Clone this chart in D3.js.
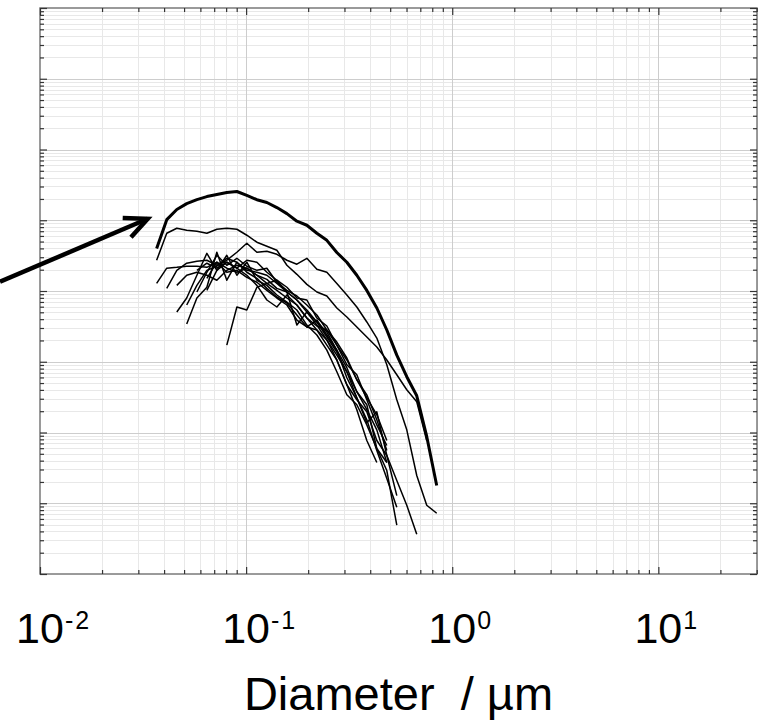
<!DOCTYPE html>
<html>
<head>
<meta charset="utf-8">
<script src="https://cdn.jsdelivr.net/npm/d3@7"></script>
<style>
  body { margin: 0; background: #fff; }
  svg { display: block; }
  text { font-family: "Liberation Sans", Arial, Helvetica, sans-serif; fill: #000; }
</style>
</head>
<body>
<div id="chart"></div>
<script>
// size bins (µm), shared by every curve
const diameters = [0.0368, 0.0412, 0.0461, 0.0515, 0.0577, 0.0645, 0.0721, 0.0806, 0.0902, 0.1008,
    0.1128, 0.1261, 0.1410, 0.1577, 0.1763, 0.1971, 0.2204, 0.2464, 0.2755, 0.3081,
    0.3444, 0.3851, 0.4306, 0.4815, 0.5383, 0.6017, 0.6727, 0.7520, 0.8408];

// highlighted (bold) distribution
const thickCurve = [4.0e4, 1.02e5, 1.42e5, 1.72e5, 1.96e5, 2.16e5, 2.31e5, 2.47e5, 2.55e5, 2.24e5,
    1.95e5, 1.78e5, 1.51e5, 1.24e5, 9.7e4, 8.5e4, 6.55e4, 5.2e4, 3.5e4, 2.55e4,
    1.67e4, 1.02e4, 5.75e3, 2.81e3, 1.24e3, 614, 330, 88, 17.8];

// other distributions (null = no data in that bin)
const runA = [2.72e4, 6.55e4, 7.71e4, 7.22e4, 6.99e4, 6.55e4, 7.46e4, 7.71e4, 7.46e4, 6.14e4,
    4.89e4, 4.29e4, 3.77e4, 2.31e4, 1.72e4, 1.24e4, 9.68e3, 8.5e3, 5.75e3, 4.29e3,
    3.1e3, 2.24e3, 1.62e3, 1.06e3, 655, 402, 272, 77, null];
const runB = [null, null, null, 6.34e3, 1.20e4, 1.96e4, 2.24e4, 2.72e4, 3.53e4, 4.73e4,
    3.53e4, 3.65e4, 3.30e4, 2.72e4, 2.39e4, 2.90e4, 2.03e4, 1.84e4, 1.28e4, 8.78e3,
    5.94e3, 3.65e3, 2.16e3, 907, 290, 109, 24.7, 9.37, 7.22];
const runC = [1.28e4, 2.10e4, 2.16e4, 2.24e4, 2.24e4, 2.16e4, 2.55e4, 2.10e4, 1.84e4, 2.10e4,
    1.67e4, 1.28e4, 1.02e4, 7.96e3, 6.34e3, 4.15e3, 2.81e3, 1.72e3, 1.06e3, 473,
    210, 77.1, 37.7, null, null, null, null, null, null];
const runD = [null, 1.09e4, 1.96e4, 2.47e4, 2.63e4, 2.72e4, 2.31e4, 2.90e4, 2.55e4, 1.96e4,
    1.84e4, 1.67e4, 1.28e4, 9.68e3, 7.46e3, 5.39e3, 3.65e3, 2.24e3, 1.37e3, 722,
    310, 151, 55.7, 22.4, 8.78, null, null, null, null];
const runE = [null, null, 5.05e3, 7.96e3, 1.67e4, 3.41e4, 1.96e4, 3.20e4, 1.67e4, 2.55e4,
    1.42e4, 1.20e4, 8.78e3, 6.99e3, 5.39e3, 3.30e3, 2.39e3, 1.46e3, 722, 341,
    247, 128, 59.4, 29.0, 4.89, null, null, null, null];
const runF = [null, null, null, 3.41e3, 7.96e3, 1.13e4, 3.53e4, 1.42e4, 2.55e4, 1.84e4,
    1.51e4, 1.09e4, 8.23e3, 6.77e3, 4.58e3, 3.10e3, 2.81e3, 2.03e3, 1.24e3, 722,
    377, 210, 109, 37.7, null, null, null, null, null];
const runG = [null, null, null, null, null, null, null, 1.72e3, 5.94e3, 5.39e3,
    1.13e4, 1.28e4, 1.42e4, 9.68e3, 7.46e3, 5.05e3, 3.30e3, 2.03e3, 1.06e3, 473,
    290, 196, 77.1, 47.3, 21.0, 9.37, 3.65, null, null];
const runH = [null, null, null, null, 9.68e3, 1.84e4, 3.20e4, 2.31e4, 2.90e4, 2.24e4,
    1.96e4, 2.10e4, 1.33e4, 1.02e4, 8.50e3, 6.34e3, 4.58e3, 2.81e3, 1.90e3, 1.13e3,
    557, 341, 151, 55.7, null, null, null, null, null];
const runI = [null, null, null, null, null, 1.02e4, 1.96e4, 2.55e4, 2.10e4, 2.72e4,
    2.55e4, 1.84e4, 1.42e4, 1.13e4, 7.96e3, 7.46e3, 4.15e3, 3.20e3, 1.72e3, 907,
    655, 290, 128, 65.5, null, null, null, null, null];
const runJ = [null, null, null, null, 1.96e4, 2.47e4, 2.10e4, 2.55e4, 2.10e4, 1.67e4,
    1.20e4, 7.46e3, 5.94e3, 8.78e3, 6.34e3, 4.15e3, 3.20e3, 2.81e3, 1.72e3, 1.06e3,
    557, 310, 178, 77.1, null, null, null, null, null];
const runK = [null, null, null, null, null, 1.51e4, 2.55e4, 1.84e4, 1.96e4, 1.56e4,
    1.33e4, 1.02e4, 7.96e3, 6.34e3, 3.89e3, 3.10e3, 3.89e3, 2.39e3, 1.46e3, 594,
    310, 137, 196, 47.3, 12.8, null, null, null, null];
const runL = [null, null, 1.20e4, 1.67e4, 1.84e4, 1.67e4, 1.42e4, 1.96e4, 2.31e4, 2.10e4,
    1.67e4, 1.46e4, 1.09e4, 9.68e3, 3.30e3, 5.05e3, 3.65e3, 2.63e3, 1.46e3, 823,
    377, 247, 59.4, 37.7, null, null, null, null, null];

const thinCurves = [runA, runB, runC, runD, runE, runF, runG, runH, runI, runJ, runK, runL];

const xMajorTicks = [0.01, 0.1, 1, 10];
const xTickExponents = ["-2", "-1", "0", "1"];
const xTitle = "Diameter  / \u00b5m";

// annotation arrow, in data units (tail lies left of the axes)
const arrowTail = [0.0064, 1.35e4];
const arrowTip = [0.0333, 1.05e5];

let margin = { top: 8, right: 4, bottom: 147, left: 40 };
let width = 761 - margin.left - margin.right;
let height = 721 - margin.top - margin.bottom;

let svg = d3.select("#chart").append("svg")
    .attr("width", 761)
    .attr("height", 721);

let g = svg.append("g")
    .attr("transform", `translate(${margin.left}, ${margin.top})`);

let x = d3.scaleLog()
    .domain([0.01, 30.1])
    .range([0, width]);

let y = d3.scaleLog()
    .domain([1, 1e8])
    .range([height, 0]);

// minor tick positions 2..9 of every decade
let xMinor = [];
for (let e = -2; e <= 1; e++) {
    for (let k = 2; k <= 9; k++) {
        let v = k * Math.pow(10, e);
        if (v <= x.domain()[1]) xMinor.push(v);
    }
}
let yMajor = d3.range(0, 9).map(e => Math.pow(10, e));
let yMinor = [];
for (let e = 0; e < 8; e++) {
    for (let k = 2; k <= 9; k++) yMinor.push(k * Math.pow(10, e));
}

function gridLayer(axis, transform, color) {
    let layer = g.append("g")
        .attr("class", "grid")
        .attr("transform", transform)
        .call(axis);
    layer.select(".domain").remove();
    layer.selectAll("line")
        .attr("stroke", color)
        .attr("stroke-width", 1)
        .attr("shape-rendering", "crispEdges");
    return layer;
}

// grids: minor first, major on top
gridLayer(d3.axisBottom(x).tickValues(xMinor).tickSize(-height).tickFormat(""), `translate(0, ${height})`, "#e8e8e8");
gridLayer(d3.axisLeft(y).tickValues(yMinor).tickSize(-width).tickFormat(""), "translate(0, 0)", "#e8e8e8");
gridLayer(d3.axisBottom(x).tickValues(xMajorTicks.slice(1)).tickSize(-height).tickFormat(""), `translate(0, ${height})`, "#cdcdcd");
gridLayer(d3.axisLeft(y).tickValues(yMajor.slice(1, -1)).tickSize(-width).tickFormat(""), "translate(0, 0)", "#cdcdcd");

// curves
let line = d3.line()
    .defined(d => d[1] != null)
    .x(d => x(d[0]))
    .y(d => y(d[1]));

g.append("g")
    .attr("class", "thin-curves")
    .selectAll("path")
    .data(thinCurves)
    .enter().append("path")
    .attr("d", vals => line(diameters.map((d, i) => [d, vals[i]])))
    .attr("fill", "none")
    .attr("stroke", "#000")
    .attr("stroke-width", 1.5)
    .attr("stroke-linejoin", "round");

g.append("path")
    .attr("class", "thick-curve")
    .attr("d", line(diameters.map((d, i) => [d, thickCurve[i]])))
    .attr("fill", "none")
    .attr("stroke", "#000")
    .attr("stroke-width", 3)
    .attr("stroke-linejoin", "round");

// box and inward ticks on all four sides
g.append("rect")
    .attr("x", 0)
    .attr("y", 0)
    .attr("width", width)
    .attr("height", height)
    .attr("fill", "none")
    .attr("stroke", "#7a7a7a")
    .attr("stroke-width", 1.5);

function tickLayer(axis, transform) {
    let layer = g.append("g")
        .attr("class", "ticks")
        .attr("transform", transform)
        .call(axis);
    layer.select(".domain").remove();
    layer.selectAll("line")
        .attr("stroke", "#333")
        .attr("stroke-width", 1.2);
}

[[xMajorTicks, 7], [xMinor, 4]].forEach(([vals, len]) => {
    tickLayer(d3.axisBottom(x).tickValues(vals).tickSize(-len).tickFormat(""), `translate(0, ${height})`);
    tickLayer(d3.axisTop(x).tickValues(vals).tickSize(-len).tickFormat(""), "translate(0, 0)");
});
[[yMajor, 7], [yMinor, 4]].forEach(([vals, len]) => {
    tickLayer(d3.axisLeft(y).tickValues(vals).tickSize(-len).tickFormat(""), "translate(0, 0)");
    tickLayer(d3.axisRight(y).tickValues(vals).tickSize(-len).tickFormat(""), `translate(${width}, 0)`);
});

// tick labels 10^n, with the base centred on the tick
let labels = g.append("g").attr("class", "x-labels");
xMajorTicks.forEach((v, i) => {
    let base = labels.append("text")
        .attr("x", x(v))
        .attr("y", height + 69)
        .attr("text-anchor", "middle")
        .style("font-size", "43px")
        .text("10");
    let bb = base.node().getBBox();
    labels.append("text")
        .attr("x", bb.x + bb.width + 1)
        .attr("y", height + 55)
        .style("font-size", "25px")
        .style("letter-spacing", "2px")
        .text(xTickExponents[i]);
});

g.append("text")
    .attr("class", "x-title")
    .attr("x", width / 2)
    .attr("y", height + 136)
    .attr("text-anchor", "middle")
    .style("font-size", "47px")
    .style("white-space", "pre")
    .text(xTitle);

// annotation arrow
let ax0 = x(arrowTail[0]), ay0 = y(arrowTail[1]);
let ax1 = x(arrowTip[0]), ay1 = y(arrowTip[1]);
let ang = Math.atan2(ay0 - ay1, ax0 - ax1);
let headLen = 25, headSpread = 25 * Math.PI / 180;
let arrow = g.append("g").attr("class", "arrow");
arrow.append("path")
    .attr("d", `M${ax0},${ay0}L${ax1},${ay1}`)
    .attr("stroke", "#000")
    .attr("stroke-width", 4.5)
    .attr("fill", "none");
arrow.append("path")
    .attr("d", `M${ax1 + headLen * Math.cos(ang - headSpread)},${ay1 + headLen * Math.sin(ang - headSpread)}` +
        `L${ax1},${ay1}` +
        `L${ax1 + headLen * Math.cos(ang + headSpread)},${ay1 + headLen * Math.sin(ang + headSpread)}`)
    .attr("stroke", "#000")
    .attr("stroke-width", 4.5)
    .attr("stroke-linejoin", "miter")
    .attr("fill", "none");
</script>
</body>
</html>
